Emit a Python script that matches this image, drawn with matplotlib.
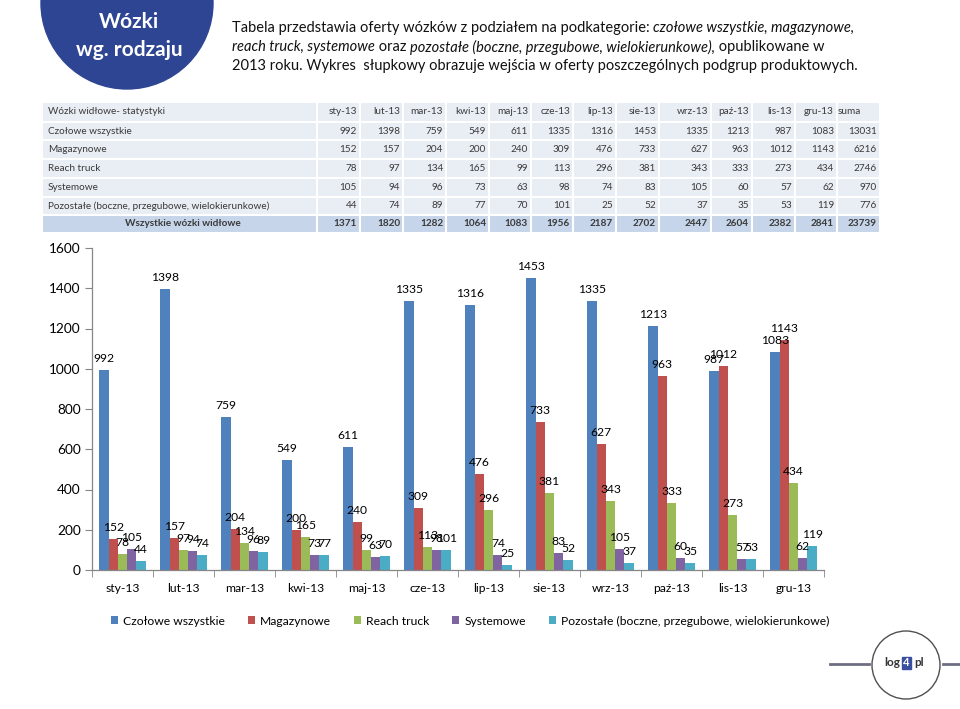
import matplotlib
matplotlib.use("Agg")
import matplotlib.pyplot as plt
from matplotlib.patches import Circle, Rectangle
import numpy as np

plt.rcParams["font.family"] = ["Lato", "DejaVu Sans"]

# ---- data ----
months = ["sty-13", "lut-13", "mar-13", "kwi-13", "maj-13", "cze-13",
          "lip-13", "sie-13", "wrz-13", "paź-13", "lis-13", "gru-13"]
series_names = ["Czołowe wszystkie", "Magazynowe", "Reach truck", "Systemowe",
                "Pozostałe (boczne, przegubowe, wielokierunkowe)"]
czolowe = [992, 1398, 759, 549, 611, 1335, 1316, 1453, 1335, 1213, 987, 1083]
magazynowe = [152, 157, 204, 200, 240, 309, 476, 733, 627, 963, 1012, 1143]
reach = [78, 97, 134, 165, 99, 113, 296, 381, 343, 333, 273, 434]
systemowe = [105, 94, 96, 73, 63, 98, 74, 83, 105, 60, 57, 62]
pozostale = [44, 74, 89, 77, 70, 101, 25, 52, 37, 35, 53, 119]
row_sums = [13031, 6216, 2746, 970, 776]
month_totals = [1371, 1820, 1282, 1064, 1083, 1956, 2187, 2702, 2447, 2604, 2382, 2841]
grand_total = 23739
yticks = [0, 200, 400, 600, 800, 1000, 1200, 1400, 1600]

colors = ["#4F81BD", "#C0504D", "#9BBB59", "#8064A2", "#4BACC6"]
W, H = 960, 709

fig = plt.figure(figsize=(W / 100, H / 100), dpi=100)
ren = fig.canvas.get_renderer()

# overlay axes in pixel coords for the slide decorations
ov = fig.add_axes([0, 0, 1, 1], zorder=0)
ov.set_xlim(0, W); ov.set_ylim(H, 0); ov.axis("off")

# title blob
ov.add_patch(Circle((127, 3), 86, color="#2E4593", zorder=1))
ov.text(129, 22, "Wózki", color="white", fontsize=15, fontweight="bold",
        ha="center", va="center", zorder=2)
ov.text(129, 50, "wg. rodzaju", color="white", fontsize=15, fontweight="bold",
        ha="center", va="center", zorder=2)


def seg_width(s, **kw):
    # measure with sentinels so leading/trailing spaces count
    t1 = ov.text(0, 0, "|" + s + "|", **kw)
    t2 = ov.text(0, 0, "||", **kw)
    w = t1.get_window_extent(ren).width - t2.get_window_extent(ren).width
    t1.remove(); t2.remove()
    return w


def draw_line(x, y, segs, size):
    for s, it in segs:
        kw = dict(fontsize=size, style="italic" if it else "normal", color="#111111")
        ov.text(x, y, s, va="center", ha="left", **kw)
        x += seg_width(s, **kw)


desc = [
    [("Tabela przedstawia oferty wózków z podziałem na podkategorie: ", False),
     ("czołowe wszystkie, magazynowe,", True)],
    [("reach truck, systemowe", True), (" oraz ", False),
     ("pozostałe (boczne, przegubowe, wielokierunkowe),", True), (" opublikowane w", False)],
    [("2013 roku. Wykres  słupkowy obrazuje wejścia w oferty poszczególnych podgrup produktowych.", False)],
]
for i, line in enumerate(desc):
    draw_line(232, 28 + i * 19, line, 10.55)

# ---- table ----
seps = [42, 317, 360, 403, 446, 489, 531, 573, 616, 659, 711, 752, 795, 837, 880]
row_y = [102, 122, 140, 159, 178, 197, 215, 233]
tcol = "#3A3A3A"
tsize = 7.2
rows = [czolowe, magazynowe, reach, systemowe, pozostale]
for r in range(7):
    y0, y1 = row_y[r], row_y[r + 1]
    fc = "#C6D5EA" if r == 6 else "#E9EDF4"
    for c in range(len(seps) - 1):
        ov.add_patch(Rectangle((seps[c], y0), seps[c + 1] - seps[c], y1 - y0,
                               facecolor=fc, edgecolor="white", lw=1.5, zorder=1))
    yc = (y0 + y1) / 2
    if r == 0:
        ov.text(48, yc, "Wózki widłowe- statystyki", fontsize=tsize, color=tcol, va="center")
        for c, m in enumerate(months):
            ov.text(seps[c + 2] - 3, yc, m, fontsize=tsize, color=tcol, va="center", ha="right")
        ov.text(seps[13] + 1, yc, "suma", fontsize=tsize, color=tcol, va="center", ha="left")
    elif r < 6:
        vals = rows[r - 1]
        ov.text(48, yc, series_names[r - 1], fontsize=tsize, color=tcol, va="center")
        for c, v in enumerate(vals):
            ov.text(seps[c + 2] - 3, yc, str(v), fontsize=tsize, color=tcol, va="center", ha="right")
        ov.text(seps[14] - 3, yc, str(row_sums[r - 1]), fontsize=tsize, color=tcol,
                va="center", ha="right")
    else:
        ov.text((seps[0] + seps[1]) / 2 + 3, yc, "Wszystkie wózki widłowe", fontsize=tsize,
                color=tcol, va="center", ha="center", fontweight="bold")
        for c, v in enumerate(month_totals):
            ov.text(seps[c + 2] - 3, yc, str(v), fontsize=tsize, color=tcol, va="center",
                    ha="right", fontweight="bold")
        ov.text(seps[14] - 3, yc, str(grand_total), fontsize=tsize, color=tcol,
                va="center", ha="right", fontweight="bold")

# ---- logo ----
ov.plot([830, 869], [664, 664], color="#6E6E82", lw=2, zorder=1)
ov.plot([943, 960], [664, 664], color="#6E6E82", lw=2, zorder=1)
ov.add_patch(Circle((906, 665), 34, facecolor="white", edgecolor="#505050", lw=1, zorder=2))
ov.text(892, 663, "log", fontsize=8.5, fontweight="bold", color="#333333",
        ha="center", va="center", zorder=3)
ov.add_patch(Rectangle((902, 657), 9, 12, color="#3A4FA0", zorder=3))
ov.text(906.5, 663, "4", fontsize=8, fontweight="bold", color="white",
        ha="center", va="center", zorder=4)
ov.text(919, 663, "pl", fontsize=8.5, fontweight="bold", color="#333333",
        ha="center", va="center", zorder=3)

# ---- bar chart ----
x0, x1, yb, yt = 92, 824, 570, 248
ax = fig.add_axes([x0 / W, 1 - yb / H, (x1 - x0) / W, (yb - yt) / H], zorder=1)
ax.patch.set_alpha(0)
data = [czolowe, magazynowe, reach, systemowe, pozostale]
x = np.arange(len(months))
bw = 0.153
fs = 8.7
for k, (vals, col) in enumerate(zip(data, colors)):
    pos = x + (k - 2) * bw
    ax.bar(pos, vals, bw, color=col, label=series_names[k], zorder=2)
    for px, v in zip(pos, vals):
        ax.annotate(str(v), (px, v), xytext=(0, 8), textcoords="offset pixels",
                    ha="center", va="baseline", fontsize=fs, color="black", zorder=3)

ax.set_xlim(-0.5, len(months) - 0.5)
ax.set_ylim(0, 1600)
ax.set_yticks(yticks)
ax.set_xticks(x)
ax.set_xticklabels(months)
ax.set_xticks(np.arange(-0.5, len(months)), minor=True)
ax.tick_params(axis="x", which="major", length=0, labelsize=fs, pad=9)
ax.tick_params(axis="x", which="minor", length=5, color="#868686", direction="out")
ax.tick_params(axis="y", length=5, color="#868686", labelsize=9.8, pad=3)
for s in ("top", "right"):
    ax.spines[s].set_visible(False)
for s in ("left", "bottom"):
    ax.spines[s].set_color("#868686")
    ax.spines[s].set_linewidth(0.9)

fig.legend(loc="center", bbox_to_anchor=(470 / W, 1 - 621 / H), ncol=5, frameon=False,
           fontsize=fs, handlelength=0.6, handleheight=0.6, handletextpad=0.4,
           columnspacing=1.9)

fig.savefig("out.png", dpi=100)
